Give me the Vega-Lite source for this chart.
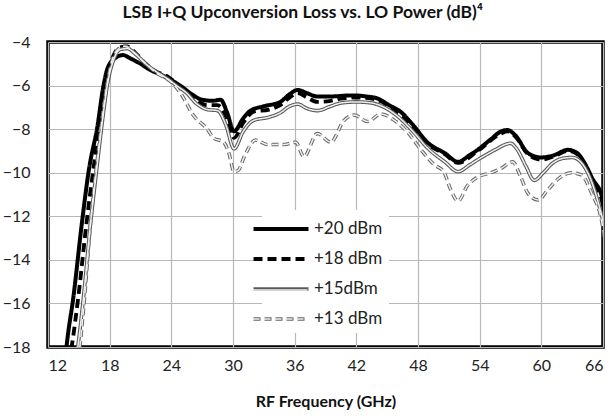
{
  "$schema": "https://vega.github.io/schema/vega-lite/v6.json",
  "width": 555,
  "height": 305,
  "autosize": {"type": "none"},
  "padding": {"left": 48, "top": 42, "right": 7, "bottom": 73},
  "title": {"text": "LSB I+Q Upconversion Loss vs. LO Power (dB)⁴", "font": "Lato", "fontSize": 17.5, "fontWeight": "bold", "anchor": "middle", "frame": "bounds", "offset": 13, "color": "#111"},
  "config": {
    "view": {"stroke": "#000", "strokeWidth": 3.5},
    "axis": {"labelFont": "Lato", "labelFontSize": 16, "labelColor": "#222", "titleFont": "Lato", "titleColor": "#111", "gridColor": "#b8b8b8", "gridWidth": 1.2, "gridOpacity": 1, "domain": false, "ticks": false}
  },
  "datasets": {
    "d": [
      {"series": "+20 dBm", "f": 13.5, "v": -19.5},
      {"series": "+20 dBm", "f": 13.8, "v": -18},
      {"series": "+20 dBm", "f": 14.5, "v": -15.6},
      {"series": "+20 dBm", "f": 15.3, "v": -12.3},
      {"series": "+20 dBm", "f": 16.0, "v": -9.8},
      {"series": "+20 dBm", "f": 16.8, "v": -7.9},
      {"series": "+20 dBm", "f": 17.4, "v": -6.0},
      {"series": "+20 dBm", "f": 17.8, "v": -5.2},
      {"series": "+20 dBm", "f": 18.5, "v": -4.75},
      {"series": "+20 dBm", "f": 19.3, "v": -4.6},
      {"series": "+20 dBm", "f": 20, "v": -4.75},
      {"series": "+20 dBm", "f": 21, "v": -5.0},
      {"series": "+20 dBm", "f": 22, "v": -5.3},
      {"series": "+20 dBm", "f": 23, "v": -5.5},
      {"series": "+20 dBm", "f": 24, "v": -5.75},
      {"series": "+20 dBm", "f": 25, "v": -6.05},
      {"series": "+20 dBm", "f": 26, "v": -6.4},
      {"series": "+20 dBm", "f": 27, "v": -6.65},
      {"series": "+20 dBm", "f": 28, "v": -6.7},
      {"series": "+20 dBm", "f": 28.8, "v": -6.65},
      {"series": "+20 dBm", "f": 29.4, "v": -7.2},
      {"series": "+20 dBm", "f": 30.1, "v": -8.1},
      {"series": "+20 dBm", "f": 31, "v": -7.5},
      {"series": "+20 dBm", "f": 31.7, "v": -7.15},
      {"series": "+20 dBm", "f": 33, "v": -6.95},
      {"series": "+20 dBm", "f": 34.6, "v": -6.75},
      {"series": "+20 dBm", "f": 35.5, "v": -6.4},
      {"series": "+20 dBm", "f": 36.3, "v": -6.2},
      {"series": "+20 dBm", "f": 37.2, "v": -6.35},
      {"series": "+20 dBm", "f": 38.2, "v": -6.5},
      {"series": "+20 dBm", "f": 39.5, "v": -6.5},
      {"series": "+20 dBm", "f": 41.5, "v": -6.45},
      {"series": "+20 dBm", "f": 43, "v": -6.5},
      {"series": "+20 dBm", "f": 44.1, "v": -6.6},
      {"series": "+20 dBm", "f": 45.2, "v": -6.9},
      {"series": "+20 dBm", "f": 46.3, "v": -7.2},
      {"series": "+20 dBm", "f": 47.5, "v": -7.8},
      {"series": "+20 dBm", "f": 48.9, "v": -8.6},
      {"series": "+20 dBm", "f": 50.6, "v": -9.1},
      {"series": "+20 dBm", "f": 51.9, "v": -9.5},
      {"series": "+20 dBm", "f": 53, "v": -9.2},
      {"series": "+20 dBm", "f": 53.8, "v": -8.95},
      {"series": "+20 dBm", "f": 55, "v": -8.5},
      {"series": "+20 dBm", "f": 56.1, "v": -8.1},
      {"series": "+20 dBm", "f": 56.7, "v": -8.04},
      {"series": "+20 dBm", "f": 57.5, "v": -8.3},
      {"series": "+20 dBm", "f": 58.7, "v": -9.1},
      {"series": "+20 dBm", "f": 60, "v": -9.3},
      {"series": "+20 dBm", "f": 61.2, "v": -9.2},
      {"series": "+20 dBm", "f": 62.6, "v": -8.95},
      {"series": "+20 dBm", "f": 63.5, "v": -9.1},
      {"series": "+20 dBm", "f": 64.2, "v": -9.55},
      {"series": "+20 dBm", "f": 65, "v": -10.3},
      {"series": "+20 dBm", "f": 65.9, "v": -11.1},
      {"series": "+20 dBm", "f": 66.2, "v": -11.8},

      {"series": "+18 dBm", "f": 13.5, "v": -20},
      {"series": "+18 dBm", "f": 14.3, "v": -18},
      {"series": "+18 dBm", "f": 15.0, "v": -15.5},
      {"series": "+18 dBm", "f": 15.7, "v": -12.5},
      {"series": "+18 dBm", "f": 16.4, "v": -9.9},
      {"series": "+18 dBm", "f": 17.1, "v": -7.6},
      {"series": "+18 dBm", "f": 17.7, "v": -5.8},
      {"series": "+18 dBm", "f": 18.3, "v": -4.7},
      {"series": "+18 dBm", "f": 19.0, "v": -4.25},
      {"series": "+18 dBm", "f": 19.7, "v": -4.2},
      {"series": "+18 dBm", "f": 20.5, "v": -4.5},
      {"series": "+18 dBm", "f": 21.5, "v": -5.0},
      {"series": "+18 dBm", "f": 22.5, "v": -5.35},
      {"series": "+18 dBm", "f": 23.5, "v": -5.55},
      {"series": "+18 dBm", "f": 24.5, "v": -5.9},
      {"series": "+18 dBm", "f": 25.5, "v": -6.3},
      {"series": "+18 dBm", "f": 26.5, "v": -6.7},
      {"series": "+18 dBm", "f": 27.5, "v": -6.9},
      {"series": "+18 dBm", "f": 28.5, "v": -6.9},
      {"series": "+18 dBm", "f": 29.3, "v": -7.4},
      {"series": "+18 dBm", "f": 30.1, "v": -8.4},
      {"series": "+18 dBm", "f": 31, "v": -7.7},
      {"series": "+18 dBm", "f": 32, "v": -7.2},
      {"series": "+18 dBm", "f": 33.5, "v": -7.1},
      {"series": "+18 dBm", "f": 34.6, "v": -6.9},
      {"series": "+18 dBm", "f": 35.5, "v": -6.55},
      {"series": "+18 dBm", "f": 36.3, "v": -6.35},
      {"series": "+18 dBm", "f": 37.2, "v": -6.55},
      {"series": "+18 dBm", "f": 38.2, "v": -6.75},
      {"series": "+18 dBm", "f": 39.5, "v": -6.7},
      {"series": "+18 dBm", "f": 40.5, "v": -6.6},
      {"series": "+18 dBm", "f": 42, "v": -6.55},
      {"series": "+18 dBm", "f": 43.5, "v": -6.6},
      {"series": "+18 dBm", "f": 44.5, "v": -6.75},
      {"series": "+18 dBm", "f": 46, "v": -7.3},
      {"series": "+18 dBm", "f": 47.5, "v": -7.9},
      {"series": "+18 dBm", "f": 49, "v": -8.7},
      {"series": "+18 dBm", "f": 50.6, "v": -9.15},
      {"series": "+18 dBm", "f": 51.9, "v": -9.55},
      {"series": "+18 dBm", "f": 53.8, "v": -9.0},
      {"series": "+18 dBm", "f": 56.1, "v": -8.2},
      {"series": "+18 dBm", "f": 56.7, "v": -8.1},
      {"series": "+18 dBm", "f": 57.5, "v": -8.35},
      {"series": "+18 dBm", "f": 58.7, "v": -9.15},
      {"series": "+18 dBm", "f": 60, "v": -9.4},
      {"series": "+18 dBm", "f": 61.2, "v": -9.25},
      {"series": "+18 dBm", "f": 62.6, "v": -9.0},
      {"series": "+18 dBm", "f": 63.5, "v": -9.15},
      {"series": "+18 dBm", "f": 64.2, "v": -9.6},
      {"series": "+18 dBm", "f": 65, "v": -10.4},
      {"series": "+18 dBm", "f": 65.9, "v": -11.3},
      {"series": "+18 dBm", "f": 66.2, "v": -12},

      {"series": "+15dBm", "f": 13.5, "v": -21},
      {"series": "+15dBm", "f": 14.9, "v": -18},
      {"series": "+15dBm", "f": 15.5, "v": -15.5},
      {"series": "+15dBm", "f": 16.1, "v": -12.5},
      {"series": "+15dBm", "f": 16.7, "v": -10},
      {"series": "+15dBm", "f": 17.3, "v": -7.6},
      {"series": "+15dBm", "f": 17.8, "v": -5.9},
      {"series": "+15dBm", "f": 18.4, "v": -4.8},
      {"series": "+15dBm", "f": 19.0, "v": -4.35},
      {"series": "+15dBm", "f": 19.7, "v": -4.3},
      {"series": "+15dBm", "f": 20.5, "v": -4.55},
      {"series": "+15dBm", "f": 21.5, "v": -5.0},
      {"series": "+15dBm", "f": 22.5, "v": -5.35},
      {"series": "+15dBm", "f": 23.5, "v": -5.65},
      {"series": "+15dBm", "f": 24.5, "v": -6.0},
      {"series": "+15dBm", "f": 25.5, "v": -6.35},
      {"series": "+15dBm", "f": 26.5, "v": -6.85},
      {"series": "+15dBm", "f": 27.5, "v": -7.1},
      {"series": "+15dBm", "f": 28.5, "v": -7.15},
      {"series": "+15dBm", "f": 29.3, "v": -7.8},
      {"series": "+15dBm", "f": 30.1, "v": -8.9},
      {"series": "+15dBm", "f": 31, "v": -8.1},
      {"series": "+15dBm", "f": 32, "v": -7.6},
      {"series": "+15dBm", "f": 33.5, "v": -7.45},
      {"series": "+15dBm", "f": 34.6, "v": -7.25},
      {"series": "+15dBm", "f": 35.5, "v": -6.95},
      {"series": "+15dBm", "f": 36.3, "v": -6.85},
      {"series": "+15dBm", "f": 37.2, "v": -7.05},
      {"series": "+15dBm", "f": 38.2, "v": -7.15},
      {"series": "+15dBm", "f": 39.5, "v": -6.95},
      {"series": "+15dBm", "f": 40.5, "v": -6.8},
      {"series": "+15dBm", "f": 42, "v": -6.75},
      {"series": "+15dBm", "f": 43.5, "v": -6.8},
      {"series": "+15dBm", "f": 44.5, "v": -6.95},
      {"series": "+15dBm", "f": 46, "v": -7.4},
      {"series": "+15dBm", "f": 47.5, "v": -8.1},
      {"series": "+15dBm", "f": 49, "v": -8.9},
      {"series": "+15dBm", "f": 50.6, "v": -9.5},
      {"series": "+15dBm", "f": 51.9, "v": -9.95},
      {"series": "+15dBm", "f": 53, "v": -9.65},
      {"series": "+15dBm", "f": 54, "v": -9.35},
      {"series": "+15dBm", "f": 55.5, "v": -8.95},
      {"series": "+15dBm", "f": 57, "v": -8.65},
      {"series": "+15dBm", "f": 57.6, "v": -8.9},
      {"series": "+15dBm", "f": 58.5, "v": -9.7},
      {"series": "+15dBm", "f": 59.3, "v": -10.35},
      {"series": "+15dBm", "f": 60.2, "v": -10.0},
      {"series": "+15dBm", "f": 61, "v": -9.6},
      {"series": "+15dBm", "f": 62, "v": -9.35},
      {"series": "+15dBm", "f": 63, "v": -9.3},
      {"series": "+15dBm", "f": 64, "v": -9.6},
      {"series": "+15dBm", "f": 64.8, "v": -10.3},
      {"series": "+15dBm", "f": 65.5, "v": -11.3},
      {"series": "+15dBm", "f": 66.2, "v": -12.6},

      {"series": "+13 dBm", "f": 13.5, "v": -22},
      {"series": "+13 dBm", "f": 15.1, "v": -18},
      {"series": "+13 dBm", "f": 15.6, "v": -15.5},
      {"series": "+13 dBm", "f": 16.1, "v": -12.5},
      {"series": "+13 dBm", "f": 16.6, "v": -10.2},
      {"series": "+13 dBm", "f": 17.1, "v": -8.2},
      {"series": "+13 dBm", "f": 17.6, "v": -6.4},
      {"series": "+13 dBm", "f": 18.2, "v": -4.9},
      {"series": "+13 dBm", "f": 18.9, "v": -4.3},
      {"series": "+13 dBm", "f": 19.5, "v": -4.2},
      {"series": "+13 dBm", "f": 20.3, "v": -4.45},
      {"series": "+13 dBm", "f": 21.3, "v": -4.9},
      {"series": "+13 dBm", "f": 22.6, "v": -5.44},
      {"series": "+13 dBm", "f": 23.9, "v": -5.8},
      {"series": "+13 dBm", "f": 24.9, "v": -6.35},
      {"series": "+13 dBm", "f": 26.2, "v": -7.4},
      {"series": "+13 dBm", "f": 27.5, "v": -8.0},
      {"series": "+13 dBm", "f": 28.1, "v": -8.4},
      {"series": "+13 dBm", "f": 29.1, "v": -8.6},
      {"series": "+13 dBm", "f": 29.6, "v": -9.1},
      {"series": "+13 dBm", "f": 30.1, "v": -9.95},
      {"series": "+13 dBm", "f": 30.5, "v": -9.9},
      {"series": "+13 dBm", "f": 31.1, "v": -9.26},
      {"series": "+13 dBm", "f": 32.2, "v": -8.5},
      {"series": "+13 dBm", "f": 33.3, "v": -8.7},
      {"series": "+13 dBm", "f": 35, "v": -8.7},
      {"series": "+13 dBm", "f": 36.1, "v": -8.6},
      {"series": "+13 dBm", "f": 36.9, "v": -9.26},
      {"series": "+13 dBm", "f": 38.2, "v": -8.2},
      {"series": "+13 dBm", "f": 39.5, "v": -8.6},
      {"series": "+13 dBm", "f": 40.8, "v": -7.6},
      {"series": "+13 dBm", "f": 41.8, "v": -7.35},
      {"series": "+13 dBm", "f": 43.1, "v": -7.65},
      {"series": "+13 dBm", "f": 44.4, "v": -7.3},
      {"series": "+13 dBm", "f": 45.7, "v": -7.6},
      {"series": "+13 dBm", "f": 47, "v": -8.15},
      {"series": "+13 dBm", "f": 48.3, "v": -8.95},
      {"series": "+13 dBm", "f": 49.6, "v": -9.64},
      {"series": "+13 dBm", "f": 50.5, "v": -9.95},
      {"series": "+13 dBm", "f": 51.2, "v": -10.8},
      {"series": "+13 dBm", "f": 51.9, "v": -11.3},
      {"series": "+13 dBm", "f": 52.8, "v": -10.6},
      {"series": "+13 dBm", "f": 53.8, "v": -10.2},
      {"series": "+13 dBm", "f": 55.1, "v": -10.0},
      {"series": "+13 dBm", "f": 56.1, "v": -9.8},
      {"series": "+13 dBm", "f": 57.2, "v": -9.5},
      {"series": "+13 dBm", "f": 58, "v": -10.2},
      {"series": "+13 dBm", "f": 58.7, "v": -10.95},
      {"series": "+13 dBm", "f": 59.7, "v": -11.25},
      {"series": "+13 dBm", "f": 60.6, "v": -10.8},
      {"series": "+13 dBm", "f": 61.6, "v": -10.3},
      {"series": "+13 dBm", "f": 62.9, "v": -10.0},
      {"series": "+13 dBm", "f": 63.9, "v": -10.1},
      {"series": "+13 dBm", "f": 64.9, "v": -10.95},
      {"series": "+13 dBm", "f": 65.9, "v": -12.3},
      {"series": "+13 dBm", "f": 66.2, "v": -13.2}
    ]
  },
  "data": {"name": "d"},
  "encoding": {
    "x": {"field": "f", "type": "quantitative", "scale": {"domain": [12, 66], "nice": false, "zero": false}, "axis": {"values": [12, 18, 24, 30, 36, 42, 48, 54, 60, 66], "title": "RF Frequency (GHz)", "titleFontSize": 16, "titleFontWeight": "bold", "labelPadding": 10, "titlePadding": 20}},
    "y": {"field": "v", "type": "quantitative", "scale": {"domain": [-18, -4], "nice": false, "zero": false}, "axis": {"values": [-18, -16, -14, -12, -10, -8, -6, -4], "title": null, "labelPadding": 18}}
  },
  "layer": [
    {
      "mark": {"type": "line", "interpolate": "monotone", "clip": true},
      "encoding": {
        "color": {"field": "series", "type": "nominal", "scale": {"domain": ["+20 dBm", "+18 dBm", "+15dBm", "+13 dBm"], "range": ["#000000", "#000000", "#5a5a5a", "#666666"]},
          "legend": {"orient": "none", "legendX": 214, "legendY": 168, "fillColor": "white", "padding": 6, "symbolType": "M-2.5,0H2.5", "symbolSize": 484, "labelFontSize": 17, "labelFont": "Lato", "labelColor": "#222", "title": null, "rowPadding": 9, "labelOffset": 20}},
        "strokeDash": {"field": "series", "type": "nominal", "scale": {"domain": ["+20 dBm", "+18 dBm", "+15dBm", "+13 dBm"], "range": [[1, 0], [9, 5], [1, 0], [7, 4]]}},
        "strokeWidth": {"field": "series", "type": "nominal", "scale": {"domain": ["+20 dBm", "+18 dBm", "+15dBm", "+13 dBm"], "range": [4, 3.5, 5, 5]}},
        "detail": {"field": "series"}
      }
    },
    {
      "transform": [{"filter": {"field": "series", "oneOf": ["+15dBm", "+13 dBm"]}}],
      "mark": {"type": "line", "interpolate": "monotone", "clip": true, "color": "#f0f0f0", "strokeWidth": 1.5},
      "encoding": {
        "strokeDash": {"field": "series", "type": "nominal"},
        "opacity": {"field": "series", "type": "nominal", "scale": {"domain": ["+15dBm", "+13 dBm"], "range": [1, 1]},
          "legend": {"orient": "none", "legendX": 214, "legendY": 230, "padding": 6, "symbolType": "M-2.5,0H2.5", "symbolSize": 484, "symbolStrokeColor": "#f0f0f0", "symbolStrokeWidth": 1.5, "symbolFillColor": "transparent", "labelFontSize": 17, "labelFont": "Lato", "labelExpr": "''", "title": null, "rowPadding": 9, "labelOffset": 20,
            "encode": {"symbols": {"update": {"strokeDash": {"signal": "datum.value === '+13 dBm' ? [7, 4] : [1, 0]"}}}}}},
        "detail": {"field": "series"}
      }
    }
  ]
}
